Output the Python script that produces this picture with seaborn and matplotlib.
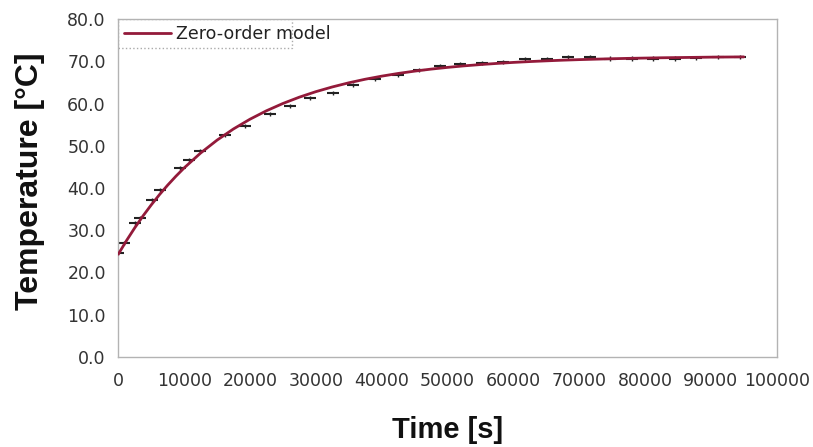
import numpy as np
import pandas as pd
import matplotlib
matplotlib.use("Agg")
import matplotlib.pyplot as plt
import matplotlib.patches as mpatches
import seaborn as sns

meas_time = [0, 820, 2580, 3340, 5120, 6380, 9420, 10690, 12450, 16200,
             19240, 23040, 26080, 29110, 32650, 35690, 39000, 42530, 45700,
             48860, 51900, 55190, 58480, 61770, 65060, 68350, 71640, 74680,
             77970, 81250, 84550, 87800, 91130, 94430]
meas_temp = [24.5, 26.9, 31.6, 32.8, 37.2, 39.5, 44.7, 46.6, 48.8, 52.6,
             54.7, 57.5, 59.4, 61.3, 62.6, 64.4, 65.8, 66.8, 68.0,
             69.0, 69.4, 69.7, 69.9, 70.5, 70.5, 71.0, 71.0, 70.7,
             70.7, 70.7, 70.7, 70.9, 71.0, 71.1]
meas_err = [0.5] * len(meas_time)

# Zero-order model curve
model_time = [0, 1250, 2500, 3750, 5000, 6250, 7500, 8750, 10000, 12500,
              15000, 17500, 20000, 22500, 25000, 27500, 30000, 32500, 35000,
              37500, 40000, 42500, 45000, 47500, 50000, 52500, 55000, 57500,
              60000, 62500, 65000, 67500, 70000, 72500, 75000, 77500, 80000,
              82500, 85000, 87500, 90000, 92500, 95000]
model_temp = [24.3, 27.54, 30.56, 33.37, 35.98, 38.42, 40.68, 42.79, 44.76, 48.29,
              51.35, 54.01, 56.31, 58.31, 60.04, 61.54, 62.84, 63.96, 64.94,
              65.79, 66.52, 67.16, 67.71, 68.19, 68.60, 68.96, 69.27, 69.54,
              69.78, 69.98, 70.15, 70.31, 70.44, 70.55, 70.65, 70.74, 70.81,
              70.88, 70.93, 70.98, 71.03, 71.06, 71.09]

x_ticks = list(range(0, 100001, 10000))
y_ticks = [0, 10, 20, 30, 40, 50, 60, 70, 80]

sns.set_theme(style="white")
plt.rcParams['font.family'] = ['DejaVu Sans']

fig = plt.figure(figsize=(8.13, 4.47), dpi=100)
ax = fig.add_axes([0.1455, 0.202, 0.8098, 0.7548])

gray = "#b3b3b3"
# measurement markers
ax.errorbar(meas_time, meas_temp, yerr=meas_err, fmt="none", ecolor="#222222",
            elinewidth=1.0, capsize=0, zorder=2)
ax.plot(meas_time, meas_temp, linestyle="none", marker="_", markersize=9,
        markeredgewidth=1.5, color="#222222", zorder=2)

df = pd.DataFrame({"Time": model_time, "Temp": model_temp})
sns.lineplot(data=df, x="Time", y="Temp", ax=ax, color="#931a3a", linewidth=2.0,
             label="Zero-order model", zorder=3)

ax.set_xlim(0, 100000)
ax.set_ylim(0, 80)
ax.set_xticks(x_ticks)
ax.set_yticks(y_ticks)
ax.set_xticklabels([str(v) for v in x_ticks])
ax.set_yticklabels([f"{v:.1f}" for v in y_ticks])

for s in ax.spines.values():
    s.set_color(gray)
    s.set_linewidth(1.0)
ax.tick_params(axis="both", which="major", direction="out", length=6,
               width=1.0, color=gray, labelsize=12.5, labelcolor="#333333", pad=3)
ax.tick_params(axis="x", pad=5)

ax.set_xlabel("Time [s]", fontsize=21, fontweight="bold", family=["Liberation Sans"],
              labelpad=19, color="#111111")
ax.set_ylabel("Temperature [°C]", fontsize=23, fontweight="bold", family=["Liberation Sans"],
              labelpad=16, color="#111111")
ax.yaxis.set_label_coords(-0.111, 0.52)

# legend (no frame); dotted frame drawn separately like the reference
leg = ax.legend(loc="upper left", bbox_to_anchor=(0.0, 1.0), frameon=False,
                fontsize=12.5, borderaxespad=0.0, handlelength=2.7,
                handletextpad=0.3, borderpad=0.35)
for t in leg.get_texts():
    t.set_color("#222222")
rect = mpatches.Rectangle((0.0, 0.914), 0.264, 0.086, transform=ax.transAxes,
                          fill=False, edgecolor="#aaaaaa", linestyle=":",
                          linewidth=1.0, zorder=1)
ax.add_patch(rect)

fig.savefig("out.png", dpi=100)
